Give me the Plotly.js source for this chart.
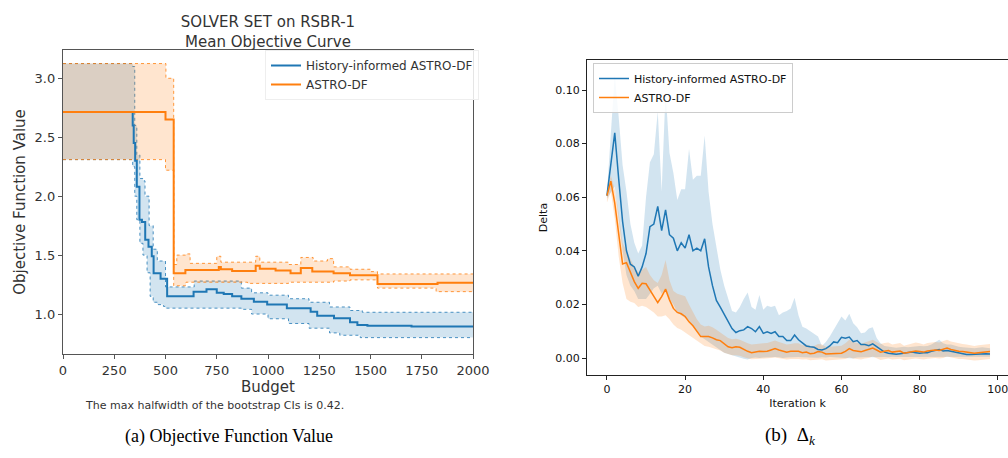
<!DOCTYPE html>
<html><head><meta charset="utf-8">
<script src="https://cdn.plot.ly/plotly-3.0.1.min.js"></script>
<style>html,body{margin:0;padding:0;background:#fff}#c{width:1008px;height:458px}</style>
</head><body><div id="c"></div>
<script>
// ---------- Left panel: Mean objective curve (step data) ----------
const budgetA = [0,500,540,597,760,770,825,940,960,1037,1110,1160,1216,1320,1400,1534,1827,2000];
const meanA   = [2.715,2.65,1.345,1.373,1.40,1.38,1.365,1.41,1.385,1.37,1.345,1.39,1.36,1.345,1.33,1.255,1.265,1.265];
const budgetAU = [0,502,540,555,600,620,750,770,940,960,1100,1160,1220,1290,1320,1400,1500,1534,1800,2000];
const upperA   = [3.125,3.0,1.42,1.50,1.51,1.43,1.49,1.44,1.49,1.44,1.42,1.48,1.45,1.47,1.40,1.38,1.36,1.34,1.34,1.34];
const budgetAL = [0,500,540,600,750,900,1100,1320,1400,1534,1820,2000];
const lowerA   = [2.31,2.22,1.24,1.27,1.27,1.26,1.27,1.28,1.29,1.22,1.19,1.19];

const budgetH = [0,340,345,352,360,373,385,401,417,433,442,476,508,637,700,750,784,825,870,931,996,1092,1208,1240,1322,1400,1436,1485,1700,2000];
const meanH   = [2.715,2.6,2.45,2.3,2.08,1.80,1.78,1.63,1.57,1.49,1.345,1.30,1.15,1.19,1.21,1.18,1.17,1.15,1.13,1.105,1.08,1.05,1.02,0.985,0.964,0.93,0.907,0.90,0.895,0.89];
const budgetHU = [0,340,350,360,375,390,400,420,440,460,500,640,870,920,1000,1100,1200,1300,1400,1460,2000];
const upperH   = [3.125,3.10,2.6,2.35,2.15,2.13,2.0,1.75,1.55,1.45,1.23,1.28,1.22,1.18,1.16,1.13,1.10,1.06,1.03,1.015,1.015];
const budgetHL = [0,340,350,360,375,390,410,425,440,460,490,500,870,920,1000,1100,1200,1300,1350,1450,2000];
const lowerH   = [2.31,2.25,2.0,1.8,1.6,1.5,1.35,1.15,1.10,1.08,1.065,1.05,1.04,1.0,0.96,0.92,0.88,0.84,0.82,0.80,0.80];

// ---------- Right panel: Delta per iteration ----------
const iters = [0,1,2,3,4,5,6,7,8,9,10,11,12,13,14,15,16,17,18,19,20,21,22,23,24,25,26,27,28,29,30,31,32,33,34,35,36,37,38,39,40,41,42,43,44,45,46,47,48,49,50,51,52,53,54,55,56,57,58,59,60,61,62,63,64,65,66,67,68,69,70,71,72,73,74,75,76,77,78,79,80,81,82,83,84,85,86,87,88,89,90,91,92,93,94,95,96,97,98];
const deltaH = [0.0606,0.072,0.084,0.067,0.051,0.040,0.035,0.034,0.0305,0.034,
0.039,0.049,0.050,0.0566,0.0475,0.0553,0.046,0.0447,0.040,0.043,
0.041,0.046,0.040,0.041,0.040,0.0445,0.034,0.027,0.0215,0.019,
0.0165,0.0135,0.011,0.0095,0.0102,0.0105,0.0117,0.011,0.0098,0.0117,
0.0092,0.0098,0.0092,0.0098,0.008,0.008,0.0065,0.0065,0.0086,0.0068,
0.0055,0.0045,0.0042,0.004,0.0032,0.003,0.0035,0.0045,0.006,0.0057,
0.0077,0.0074,0.0078,0.0061,0.0065,0.005,0.005,0.0046,0.0053,0.0042,
0.003,0.0022,0.0018,0.0016,0.0014,0.0016,0.0018,0.002,0.0022,0.002,
0.0018,0.002,0.002,0.0025,0.0028,0.0032,0.0026,0.0028,0.0025,0.0022,
0.0018,0.0016,0.0013,0.0013,0.0014,0.0015,0.0017,0.0016,0.0015];
const deltaHUp = [0.0615,0.085,0.106,0.09,0.072,0.062,0.05,0.043,0.039,0.042,
0.06,0.073,0.076,0.092,0.062,0.0996,0.0765,0.069,0.059,0.063,
0.063,0.078,0.0665,0.068,0.068,0.083,0.062,0.05,0.041,0.033,
0.027,0.022,0.0175,0.017,0.019,0.022,0.0244,0.019,0.018,0.0235,
0.018,0.0195,0.019,0.0195,0.016,0.017,0.0175,0.0185,0.0225,0.016,
0.0117,0.011,0.010,0.009,0.008,0.0045,0.006,0.008,0.0105,0.0125,
0.0155,0.014,0.0165,0.013,0.0115,0.0092,0.0095,0.011,0.0115,0.0075,
0.0055,0.0045,0.0042,0.004,0.0038,0.004,0.0042,0.004,0.0042,0.0042,
0.0045,0.0044,0.0045,0.005,0.006,0.0068,0.0055,0.005,0.005,0.0045,
0.0042,0.004,0.0038,0.0036,0.0036,0.0038,0.004,0.0038,0.0036];
const deltaHLo = [0.0595,0.062,0.064,0.052,0.040,0.031,0.027,0.025,0.022,0.022,
0.022,0.024,0.026,0.027,0.024,0.026,0.022,0.020,0.017,0.016,
0.015,0.014,0.012,0.010,0.008,0.007,0.006,0.005,0.004,0.003,
0.002,0.0015,0.001,0.0005,0.0,-0.0003,-0.0006,0.0,0.0002,0.0,
0.0002,0.0003,0.0002,0.0004,0.0003,0.0,0.0002,0.0003,0.0002,0.0004,
0.0003,0.0002,0.0003,0.0002,0.0001,0.0003,0.0002,0.0004,0.0003,0.0002,
0.0003,0.0002,0.0001,-0.0002,0.0002,0.0003,0.0002,0.0004,0.0003,0.0004,
0.0003,0.0004,0.0003,0.0005,0.0004,0.0004,0.0005,0.0004,0.0005,0.0005,
0.0004,0.0005,0.0005,0.0006,0.0005,0.0006,0.0005,0.0005,0.0006,0.0005,
0.0005,0.0004,0.0004,0.0005,0.0004,0.0005,0.0005,0.0004,0.0005];
const deltaA = [0.0606,0.066,0.0578,0.0466,0.0351,0.0356,0.0317,0.0285,0.026,0.0279,
0.0277,0.0254,0.0227,0.0207,0.0229,0.0257,0.0217,0.0185,0.017,0.0165,
0.0155,0.0135,0.012,0.0098,0.008,0.008,0.008,0.0075,0.0068,0.0065,
0.0052,0.0042,0.0038,0.0042,0.004,0.0032,0.0025,0.002,0.0022,0.0025,
0.0024,0.0025,0.003,0.0035,0.003,0.0025,0.0022,0.0025,0.0026,0.0025,
0.002,0.0022,0.0016,0.0018,0.0024,0.0022,0.0015,0.0016,0.0017,0.0017,
0.0018,0.0025,0.0035,0.0028,0.0025,0.0023,0.0028,0.0032,0.0037,0.003,
0.0022,0.0025,0.0028,0.0022,0.0024,0.0026,0.0018,0.002,0.0024,0.0026,
0.0024,0.0022,0.0026,0.0028,0.003,0.0028,0.0032,0.0037,0.0032,0.0028,
0.0025,0.0024,0.0022,0.002,0.0018,0.002,0.0022,0.0022,0.0024];
const deltaAUp = [0.063,0.068,0.063,0.054,0.043,0.040,0.037,0.034,0.032,0.033,
0.034,0.031,0.029,0.028,0.031,0.0366,0.029,0.025,0.024,0.0235,
0.023,0.020,0.017,0.0145,0.0125,0.0118,0.012,0.0115,0.0105,0.0095,
0.0085,0.0075,0.007,0.0072,0.0068,0.006,0.0055,0.005,0.0052,0.0055,
0.0055,0.0056,0.006,0.0065,0.006,0.0055,0.005,0.0052,0.0055,0.0055,
0.0048,0.005,0.0045,0.0045,0.0052,0.005,0.0042,0.0042,0.0044,0.0045,
0.0046,0.0055,0.0068,0.006,0.0055,0.0052,0.0058,0.0062,0.0068,0.006,
0.0052,0.0056,0.0058,0.005,0.0052,0.0056,0.0046,0.005,0.0055,0.0058,
0.0055,0.005,0.0056,0.0058,0.006,0.0058,0.0063,0.0068,0.0062,0.0058,
0.0054,0.0052,0.005,0.0048,0.0045,0.0048,0.005,0.005,0.0052];
const deltaALo = [0.058,0.062,0.052,0.038,0.028,0.022,0.021,0.0205,0.019,0.0195,
0.019,0.018,0.017,0.0155,0.0155,0.016,0.0145,0.0125,0.0112,0.0105,
0.0095,0.0082,0.0072,0.0062,0.0052,0.0045,0.0042,0.0038,0.0032,0.0028,
0.002,0.0014,0.001,0.001,0.0008,0.0003,-0.0002,-0.0005,-0.0004,-0.0003,
-0.0004,-0.0003,0.0,0.0002,0.0,-0.0004,-0.0006,-0.0004,-0.0003,-0.0004,
-0.0006,-0.0005,-0.0008,-0.0007,-0.0004,-0.0005,-0.0009,-0.0008,-0.0008,-0.0008,
-0.0007,-0.0004,0.0003,-0.0002,-0.0004,-0.0006,-0.0002,0.0,0.0006,0.0,
-0.0007,-0.0005,-0.0002,-0.0006,-0.0004,-0.0003,-0.0008,-0.0007,-0.0004,-0.0002,
-0.0004,-0.0006,-0.0003,-0.0002,0.0,-0.0002,0.0,0.0006,0.0002,-0.0002,
-0.0004,-0.0004,-0.0006,-0.0008,-0.0009,-0.0008,-0.0006,-0.0006,-0.0004];

const seriesNames = ['History-informed ASTRO-DF','ASTRO-DF'];
const BLUE = '#1f77b4', ORANGE = '#ff7f0e';
const BLUEF = 'rgba(31,119,180,0.2)', ORANGEF = 'rgba(255,127,14,0.2)';
const FONT = 'DejaVu Sans';

const traces = [
  // left panel
  {x:budgetHL, y:lowerH, xaxis:'x', yaxis:'y', mode:'lines', line:{shape:'hv', color:BLUE, width:0.8, dash:'dot'}, showlegend:false, hoverinfo:'skip'},
  {x:budgetHU, y:upperH, xaxis:'x', yaxis:'y', mode:'lines', line:{shape:'hv', color:BLUE, width:0.8, dash:'dot'}, fill:'tonexty', fillcolor:BLUEF, showlegend:false, hoverinfo:'skip'},
  {x:budgetAL, y:lowerA, xaxis:'x', yaxis:'y', mode:'lines', line:{shape:'hv', color:ORANGE, width:0.8, dash:'dot'}, showlegend:false, hoverinfo:'skip'},
  {x:budgetAU, y:upperA, xaxis:'x', yaxis:'y', mode:'lines', line:{shape:'hv', color:ORANGE, width:0.8, dash:'dot'}, fill:'tonexty', fillcolor:ORANGEF, showlegend:false, hoverinfo:'skip'},
  {x:budgetH, y:meanH, xaxis:'x', yaxis:'y', mode:'lines', name:seriesNames[0], legend:'legend', line:{shape:'hv', color:BLUE, width:2}},
  {x:budgetA, y:meanA, xaxis:'x', yaxis:'y', mode:'lines', name:seriesNames[1], legend:'legend', line:{shape:'hv', color:ORANGE, width:2}},
  // right panel
  {x:iters, y:deltaHLo, xaxis:'x2', yaxis:'y2', mode:'lines', line:{width:0, color:BLUE}, showlegend:false, hoverinfo:'skip'},
  {x:iters, y:deltaHUp, xaxis:'x2', yaxis:'y2', mode:'lines', line:{width:0, color:BLUE}, fill:'tonexty', fillcolor:BLUEF, showlegend:false, hoverinfo:'skip'},
  {x:iters, y:deltaALo, xaxis:'x2', yaxis:'y2', mode:'lines', line:{width:0, color:ORANGE}, showlegend:false, hoverinfo:'skip'},
  {x:iters, y:deltaAUp, xaxis:'x2', yaxis:'y2', mode:'lines', line:{width:0, color:ORANGE}, fill:'tonexty', fillcolor:ORANGEF, showlegend:false, hoverinfo:'skip'},
  {x:iters, y:deltaH, xaxis:'x2', yaxis:'y2', mode:'lines', name:seriesNames[0], legend:'legend2', line:{color:BLUE, width:1.5}},
  {x:iters, y:deltaA, xaxis:'x2', yaxis:'y2', mode:'lines', name:seriesNames[1], legend:'legend2', line:{color:ORANGE, width:1.5}}
];

const layout = {
  width:1008, height:458,
  margin:{l:0,r:0,t:0,b:0},
  paper_bgcolor:'#fff', plot_bgcolor:'#fff',
  font:{family:FONT, color:'#333'},
  title:{text:'SOLVER SET on RSBR-1<br>Mean Objective Curve', x:268/1008, xanchor:'center', y:1-27/458, yanchor:'middle', font:{family:FONT, size:15, color:'#333'}},
  xaxis:{domain:[63/1008, 473/1008], range:[0,2000], tickvals:[0,250,500,750,1000,1250,1500,1750,2000],
    showline:true, mirror:true, linecolor:'#555', linewidth:1.2, ticks:'outside', ticklen:4, tickcolor:'#555',
    showgrid:false, zeroline:false, tickfont:{family:FONT, size:13, color:'#333'},
    title:{text:'Budget', font:{family:FONT, size:15, color:'#333'}, standoff:3}},
  yaxis:{domain:[1-354/458, 1-50/458], range:[0.661,3.24], tickvals:[1.0,1.5,2.0,2.5,3.0], tickformat:'.1f',
    showline:true, mirror:true, linecolor:'#555', linewidth:1.2, ticks:'outside', ticklen:4, tickcolor:'#555',
    showgrid:false, zeroline:false, tickfont:{family:FONT, size:13, color:'#333'},
    title:{text:'Objective Function Value', font:{family:FONT, size:15, color:'#333'}, standoff:5}},
  xaxis2:{anchor:'y2', domain:[587/1008, 1], range:[-5.1,102.6], tickvals:[0,20,40,60,80,100],
    showline:true, mirror:true, linecolor:'#222', linewidth:1, ticks:'outside', ticklen:4, tickcolor:'#222',
    showgrid:false, zeroline:false, tickfont:{family:FONT, size:11, color:'#111'}, ticklabeloverflow:'allow',
    title:{text:'Iteration k', font:{family:FONT, size:11, color:'#111'}, standoff:4}},
  yaxis2:{anchor:'x2', domain:[1-375/458, 1-60/458], range:[-0.00634,0.1112], tickvals:[0,0.02,0.04,0.06,0.08,0.10], tickformat:'.2f',
    showline:true, mirror:true, linecolor:'#222', linewidth:1, ticks:'outside', ticklen:4, tickcolor:'#222',
    showgrid:false, zeroline:false, tickfont:{family:FONT, size:11, color:'#111'},
    title:{text:'Delta', font:{family:FONT, size:11, color:'#111'}, standoff:5}},
  legend:{x:265/1008, y:1-50/458, xanchor:'left', yanchor:'top', traceorder:'normal', bgcolor:'rgba(255,255,255,0.85)', bordercolor:'#eee', borderwidth:1,
    font:{family:FONT, size:12, color:'#333'}, tracegroupgap:0},
  legend2:{x:593/1008, y:1-63/458, xanchor:'left', yanchor:'top', traceorder:'normal', bgcolor:'rgba(255,255,255,0.85)', bordercolor:'#ccc', borderwidth:1,
    font:{family:FONT, size:11, color:'#111'}, tracegroupgap:0},
  annotations:[
    {text:'The max halfwidth of the bootstrap CIs is 0.42.', xref:'paper', yref:'paper', x:83/1008, y:1-405/458, xanchor:'left', yanchor:'middle', showarrow:false, font:{family:FONT, size:11, color:'#333'}},
    {text:'(a) Objective Function Value', xref:'paper', yref:'paper', x:229/1008, y:1-436/458, xanchor:'center', yanchor:'middle', showarrow:false, font:{family:'Liberation Serif', size:18, color:'#000'}},
    {text:'(b)  Δ<sub><i>k</i></sub>', xref:'paper', yref:'paper', x:790/1008, y:1-436/458, xanchor:'center', yanchor:'middle', showarrow:false, font:{family:'Liberation Serif', size:19, color:'#000'}}
  ]
};

Plotly.newPlot('c', traces, layout, {staticPlot:true, displayModeBar:false});
</script></body></html>
